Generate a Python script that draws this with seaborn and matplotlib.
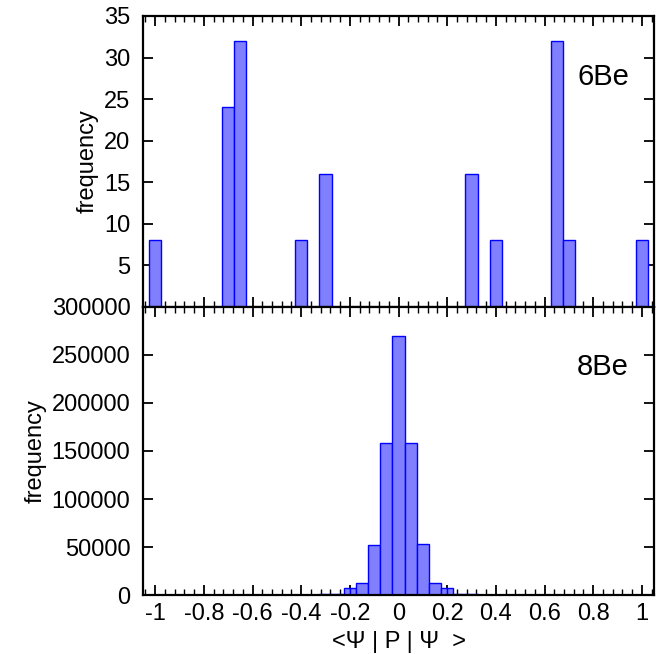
import numpy as np
import matplotlib
matplotlib.use("Agg")
import matplotlib.pyplot as plt
import seaborn as sns
from matplotlib.ticker import MultipleLocator, FuncFormatter

# Setup
sns.set_theme(style="ticks")
plt.rcParams["font.family"] = ["Liberation Sans", "DejaVu Sans"]
for k in ["text.color", "axes.labelcolor", "xtick.color", "ytick.color", "axes.edgecolor"]:
    plt.rcParams[k] = "black"

# 6Be histogram (bin width 0.05)
be6_centers = [-1.0, -0.7, -0.65, -0.4, -0.3, 0.3, 0.4, 0.65, 0.7, 1.0]
be6_counts = [8, 24, 32, 8, 16, 16, 8, 32, 8, 8]
be6_edges = list(np.round(np.arange(-1.025, 1.05, 0.05), 3))

# 8Be histogram
be8_edges = [-0.325, -0.275, -0.225, -0.2, -0.175, -0.125, -0.075, -0.025,
             0.025, 0.075, 0.125, 0.175, 0.2, 0.225, 0.275, 0.325]
be8_counts = [800, 1200, 7000, 7000, 12000, 52000, 158000, 270000,
              158000, 53000, 12000, 7000, 7000, 1200, 800]
be8_centers = [(a + b) / 2 for a, b in zip(be8_edges[:-1], be8_edges[1:])]

face = "#8080ff"
edge = "#0000ff"

fig = plt.figure(figsize=(6.62, 6.54), dpi=100)
ax1 = fig.add_axes([0.216, 0.5306, 0.772, 0.445])
ax2 = fig.add_axes([0.216, 0.0902, 0.772, 0.4404], sharex=ax1)

sns.histplot(x=be6_centers, weights=be6_counts, bins=be6_edges, ax=ax1,
             color=face, edgecolor=edge, linewidth=1, alpha=1)
sns.histplot(x=be8_centers, weights=be8_counts, bins=be8_edges, ax=ax2,
             color=face, edgecolor=edge, linewidth=1, alpha=1)

ax1.set_xlim(-1.05, 1.05)
ax1.set_ylim(0, 35)
ax2.set_ylim(0, 300000)
ax1.set_yticks(range(0, 36, 5))
ax2.set_yticks(range(0, 300001, 50000))
ax1.yaxis.set_major_formatter(FuncFormatter(lambda v, p: "" if v == 0 else f"{v:g}"))
ax2.xaxis.set_major_locator(MultipleLocator(0.2))
ax2.xaxis.set_minor_locator(MultipleLocator(0.04))
ax2.xaxis.set_major_formatter(FuncFormatter(lambda v, p: f"{round(v, 1):g}"))

for ax in (ax1, ax2):
    for s in ax.spines.values():
        s.set_visible(True)
        s.set_linewidth(1.6)
        s.set_color("black")
    ax.tick_params(which="both", direction="in", top=True, right=True,
                   left=True, bottom=True, color="black")
    ax.tick_params(which="major", length=7, width=1.3)
    ax.tick_params(which="minor", length=4, width=1.0)
    ax.tick_params(axis="y", labelsize=17, pad=9)
    ax.set_ylabel("frequency", fontsize=17)
ax1.tick_params(axis="x", labelbottom=False)
ax2.tick_params(axis="x", labelsize=17, pad=6)
ax2.set_xlabel("<Ψ | P | Ψ  >", fontsize=17, labelpad=4)

ax1.text(0.90, 0.79, "6Be", transform=ax1.transAxes, fontsize=21,
         ha="center", va="center")
ax2.text(0.90, 0.79, "8Be", transform=ax2.transAxes, fontsize=21,
         ha="center", va="center")

fig.savefig("out.png", dpi=100)
